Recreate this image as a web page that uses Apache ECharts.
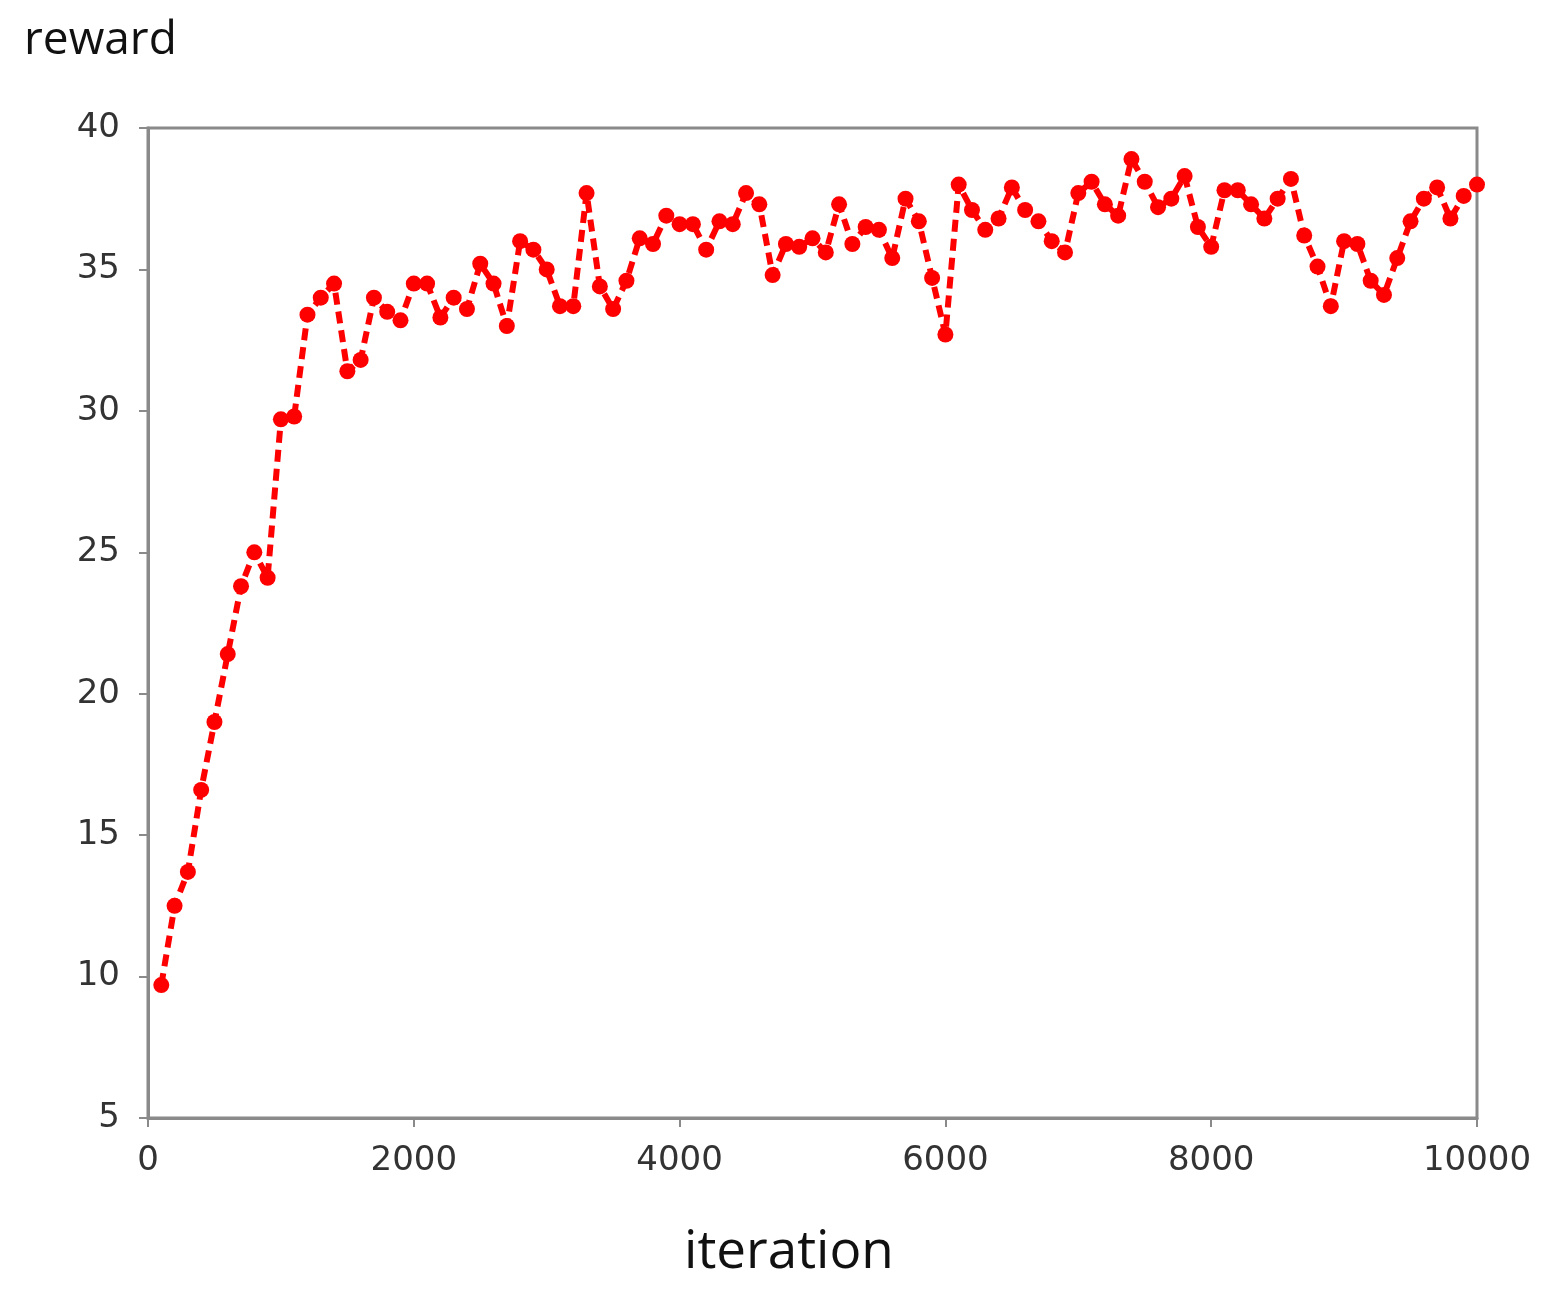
<!DOCTYPE html>
<html>
<head>
<meta charset="utf-8">
<script src="https://cdn.jsdelivr.net/npm/echarts@6/dist/echarts.min.js"></script>
<style>
  html, body { margin: 0; padding: 0; background: #fff; }
  #rewardLine { width: 1554px; height: 1313px; }
</style>
</head>
<body>
<div id="rewardLine"></div>
<script>
// iterations 100..10000, step 100
const iterations = [
  100, 200, 300, 400, 500, 600, 700, 800, 900, 1000,
  1100, 1200, 1300, 1400, 1500, 1600, 1700, 1800, 1900, 2000,
  2100, 2200, 2300, 2400, 2500, 2600, 2700, 2800, 2900, 3000,
  3100, 3200, 3300, 3400, 3500, 3600, 3700, 3800, 3900, 4000,
  4100, 4200, 4300, 4400, 4500, 4600, 4700, 4800, 4900, 5000,
  5100, 5200, 5300, 5400, 5500, 5600, 5700, 5800, 5900, 6000,
  6100, 6200, 6300, 6400, 6500, 6600, 6700, 6800, 6900, 7000,
  7100, 7200, 7300, 7400, 7500, 7600, 7700, 7800, 7900, 8000,
  8100, 8200, 8300, 8400, 8500, 8600, 8700, 8800, 8900, 9000,
  9100, 9200, 9300, 9400, 9500, 9600, 9700, 9800, 9900, 10000
];
const reward = [
  9.7, 12.5, 13.7, 16.6, 19.0, 21.4, 23.8, 25.0, 24.1, 29.7,
  29.8, 33.4, 34.0, 34.5, 31.4, 31.8, 34.0, 33.5, 33.2, 34.5,
  34.5, 33.3, 34.0, 33.6, 35.2, 34.5, 33.0, 36.0, 35.7, 35.0,
  33.7, 33.7, 37.7, 34.4, 33.6, 34.6, 36.1, 35.9, 36.9, 36.6,
  36.6, 35.7, 36.7, 36.6, 37.7, 37.3, 34.8, 35.9, 35.8, 36.1,
  35.6, 37.3, 35.9, 36.5, 36.4, 35.4, 37.5, 36.7, 34.7, 32.7,
  38.0, 37.1, 36.4, 36.8, 37.9, 37.1, 36.7, 36.0, 35.6, 37.7,
  38.1, 37.3, 36.9, 38.9, 38.1, 37.2, 37.5, 38.3, 36.5, 35.8,
  37.8, 37.8, 37.3, 36.8, 37.5, 38.2, 36.2, 35.1, 33.7, 36.0,
  35.9, 34.6, 34.1, 35.4, 36.7, 37.5, 37.9, 36.8, 37.6, 38.0
];
const xTicks = { min: 0, max: 10000, step: 2000 };
const yTicks = { min: 5, max: 40, step: 5 };

const chart = echarts.init(document.getElementById('rewardLine'));
const axisGray = '#8a8a8a';
const labelGray = '#333';

const option = {
  animation: false,
  grid: {
    left: 148, right: 77, top: 128, bottom: 195,
    show: true,
    borderColor: axisGray,
    borderWidth: 3,
    backgroundColor: '#fff'
  },
  graphic: [
    { type: 'text', left: 24, top: 18,
      style: { text: 'reward', fontSize: 46, fill: '#111', fontFamily: 'Open Sans, sans-serif' } },
    { type: 'text', left: 684, top: 1226,
      style: { text: 'iteration', fontSize: 53, fill: '#111', fontFamily: 'Open Sans, sans-serif' } }
  ],
  xAxis: {
    type: 'value',
    min: xTicks.min, max: xTicks.max, interval: xTicks.step,
    axisLine: { show: true, lineStyle: { color: axisGray, width: 3 } },
    axisTick: { show: true, length: 9, lineStyle: { color: axisGray, width: 2 } },
    splitLine: { show: false },
    axisLabel: {
      fontSize: 34, color: labelGray, margin: 26, fontFamily: 'DejaVu Sans, sans-serif',
      formatter: v => String(v)
    }
  },
  yAxis: {
    type: 'value',
    min: yTicks.min, max: yTicks.max, interval: yTicks.step,
    axisLine: { show: true, lineStyle: { color: axisGray, width: 3 } },
    axisTick: { show: true, length: 9, lineStyle: { color: axisGray, width: 2 } },
    splitLine: { show: false },
    axisLabel: { fontSize: 34, color: labelGray, margin: 28, fontFamily: 'DejaVu Sans, sans-serif' }
  },
  series: [{
    type: 'line',
    data: iterations.map((x, i) => [x, reward[i]]),
    symbol: 'circle',
    symbolSize: 16,
    itemStyle: { color: '#ff0000' },
    lineStyle: { color: '#ff0000', width: 6, type: [12, 7] }
  }]
};

chart.setOption(option);
</script>
</body>
</html>
